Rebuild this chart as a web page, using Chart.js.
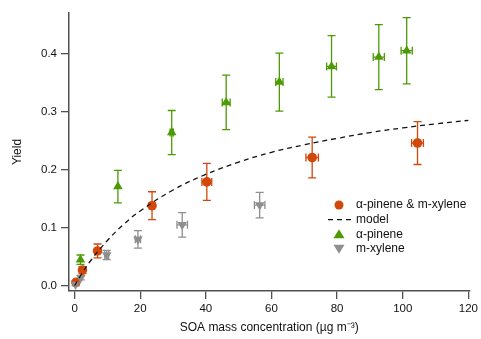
<!DOCTYPE html>
<html>
<head>
<meta charset="utf-8">
<script src="https://cdn.jsdelivr.net/npm/chart.js@4/dist/chart.umd.min.js"></script>
<style>
  html, body { margin: 0; padding: 0; background: #fff; }
  #wrap { width: 481px; height: 339px; }
</style>
</head>
<body>
<div id="wrap"><canvas id="yieldChart" width="481" height="339"></canvas></div>
<script>
// α-pinene & m-xylene mixture
const mixX    = [0.4, 2.4, 7.0, 23.6, 40.3, 72.4, 104.5];
const mixY    = [0.006, 0.027, 0.060, 0.138, 0.179, 0.221, 0.246];
const mixXErr = [0.3, 0.4, 0.6, 0.8, 1.5, 1.9, 1.8];
const mixYErr = [0.003, 0.006, 0.012, 0.024, 0.032, 0.035, 0.037];

// α-pinene only
const apX    = [1.8, 13.2, 29.6, 46.2, 62.4, 78.3, 92.7, 101.2];
const apY    = [0.045, 0.171, 0.264, 0.316, 0.351, 0.378, 0.394, 0.405];
const apXErr = [0.3, 0.4, 0.5, 1.2, 1.1, 1.5, 1.7, 1.7];
const apYErr = [0.008, 0.028, 0.038, 0.047, 0.050, 0.053, 0.056, 0.057];

// m-xylene only
const mxX    = [0.3, 1.9, 9.8, 19.3, 32.8, 56.4];
const mxY    = [0.002, 0.014, 0.053, 0.080, 0.105, 0.139];
const mxXErr = [0.2, 0.3, 0.6, 0.8, 1.6, 1.6];
const mxYErr = [0.002, 0.004, 0.008, 0.015, 0.021, 0.022];

// model curve
const modelX = [0, 2, 5, 10, 15, 20, 30, 40, 50, 60, 70, 80, 90, 100, 110, 120];
const modelY = [0, 0.019, 0.044, 0.078, 0.106, 0.129, 0.165, 0.192, 0.213, 0.230, 0.243, 0.254, 0.264, 0.272, 0.279, 0.285];

const xTicks = [0, 20, 40, 60, 80, 100, 120];
const yTicks = [0.0, 0.1, 0.2, 0.3, 0.4];

const ORANGE = '#d2480a';
const GREEN  = '#4d9a06';
const GRAY   = '#8e8e8e';
const AXIS   = '#505050';
const FONT   = 'Liberation Sans, Arial, sans-serif';

function pts(xs, ys) {
    return xs.map((x, i) => ({ x: x, y: ys[i] }));
}

// horizontal + vertical error bars with caps, drawn under the markers
const errorBars = {
    id: 'errorBars',
    beforeDatasetsDraw(chart) {
        const ctx = chart.ctx;
        const xs = chart.scales.x, ys = chart.scales.y;
        chart.data.datasets.forEach(ds => {
            if (!ds.yErr) return;
            ctx.save();
            ctx.strokeStyle = ds.borderColor;
            ctx.lineWidth = 1.3;
            ds.data.forEach((p, i) => {
                const px = xs.getPixelForValue(p.x);
                const py = ys.getPixelForValue(p.y);
                const top = ys.getPixelForValue(p.y + ds.yErr[i]);
                const bot = ys.getPixelForValue(p.y - ds.yErr[i]);
                const lft = xs.getPixelForValue(p.x - ds.xErr[i]);
                const rgt = xs.getPixelForValue(p.x + ds.xErr[i]);
                ctx.beginPath();
                ctx.moveTo(px, top); ctx.lineTo(px, bot);
                ctx.moveTo(px - 4, top); ctx.lineTo(px + 4, top);
                ctx.moveTo(px - 4, bot); ctx.lineTo(px + 4, bot);
                if (rgt - lft > 3) {
                    ctx.moveTo(lft, py); ctx.lineTo(rgt, py);
                    ctx.moveTo(lft, py - 4); ctx.lineTo(lft, py + 4);
                    ctx.moveTo(rgt, py - 4); ctx.lineTo(rgt, py + 4);
                }
                ctx.stroke();
            });
            ctx.restore();
        });
    }
};

// legend box inside the plot, lower right
const insetLegend = {
    id: 'insetLegend',
    afterDraw(chart) {
        const ctx = chart.ctx;
        const x0 = 339, tx = 356, y0 = 205, dy = 14.6;
        ctx.save();
        ctx.font = '12px ' + FONT;
        ctx.fillStyle = '#111';
        ctx.textBaseline = 'middle';
        const labels = ['\u03b1-pinene & m-xylene', 'model', '\u03b1-pinene', 'm-xylene'];
        labels.forEach((t, i) => ctx.fillText(t, tx, y0 + i * dy));

        ctx.fillStyle = ORANGE;
        ctx.beginPath(); ctx.arc(x0, y0, 4.5, 0, Math.PI * 2); ctx.fill();

        ctx.strokeStyle = '#111';
        ctx.lineWidth = 1.3;
        ctx.setLineDash([5, 4]);
        ctx.beginPath(); ctx.moveTo(328, y0 + dy); ctx.lineTo(352, y0 + dy); ctx.stroke();
        ctx.setLineDash([]);

        ctx.fillStyle = GREEN;
        let cy = y0 + 2 * dy;
        ctx.beginPath(); ctx.moveTo(x0, cy - 5); ctx.lineTo(x0 + 5.5, cy + 4); ctx.lineTo(x0 - 5.5, cy + 4); ctx.closePath(); ctx.fill();

        ctx.fillStyle = GRAY;
        cy = y0 + 3 * dy;
        ctx.beginPath(); ctx.moveTo(x0, cy + 5); ctx.lineTo(x0 + 5.5, cy - 4); ctx.lineTo(x0 - 5.5, cy - 4); ctx.closePath(); ctx.fill();
        ctx.restore();
    }
};

const ctx = document.getElementById('yieldChart').getContext('2d');
new Chart(ctx, {
    type: 'scatter',
    data: {
        datasets: [
            {
                label: 'model',
                data: pts(modelX, modelY),
                showLine: true,
                borderColor: '#111',
                borderWidth: 1.3,
                borderDash: [5, 4],
                pointRadius: 0,
                tension: 0.4,
                fill: false
            },
            {
                label: 'm-xylene',
                data: pts(mxX, mxY),
                xErr: mxXErr, yErr: mxYErr,
                borderColor: GRAY,
                backgroundColor: GRAY,
                pointStyle: 'triangle',
                rotation: 180,
                pointRadius: 5.5,
                borderWidth: 0
            },
            {
                label: '\u03b1-pinene',
                data: pts(apX, apY),
                xErr: apXErr, yErr: apYErr,
                borderColor: GREEN,
                backgroundColor: GREEN,
                pointStyle: 'triangle',
                pointRadius: 5.5,
                borderWidth: 0
            },
            {
                label: '\u03b1-pinene & m-xylene',
                data: pts(mixX, mixY),
                xErr: mixXErr, yErr: mixYErr,
                borderColor: ORANGE,
                backgroundColor: ORANGE,
                pointStyle: 'circle',
                pointRadius: 4.8,
                borderWidth: 0
            }
        ]
    },
    options: {
        responsive: false,
        animation: false,
        layout: { padding: { top: 13, right: 8, left: 0, bottom: 0 } },
        plugins: {
            legend: { display: false },
            tooltip: { enabled: false }
        },
        scales: {
            x: {
                type: 'linear',
                min: -1.7,
                max: 120.3,
                afterBuildTicks: s => { s.ticks = xTicks.map(v => ({ value: v })); },
                afterFit: s => { s.height = 48; },
                grid: { drawOnChartArea: false, color: AXIS, tickLength: 8, lineWidth: 1.3 },
                border: { color: AXIS, width: 1.5 },
                ticks: { color: '#111', font: { family: FONT, size: 11.5 }, padding: 3, maxRotation: 0 },
                title: {
                    display: true,
                    text: 'SOA mass concentration (\u00b5g m\u207b\u00b3)',
                    color: '#111',
                    font: { family: FONT, size: 12 },
                    padding: { top: 0 }
                }
            },
            y: {
                type: 'linear',
                min: -0.009,
                max: 0.47,
                afterBuildTicks: s => { s.ticks = yTicks.map(v => ({ value: v })); },
                afterFit: s => { s.width = 69; },
                grid: { drawOnChartArea: false, color: AXIS, tickLength: 8, lineWidth: 1.3 },
                border: { color: AXIS, width: 1.5 },
                ticks: {
                    color: '#111',
                    font: { family: FONT, size: 11.5 },
                    padding: 4,
                    callback: v => v.toFixed(1)
                },
                title: {
                    display: true,
                    text: 'Yield',
                    color: '#111',
                    font: { family: FONT, size: 12 },
                    padding: { top: 10, bottom: 0 }
                }
            }
        }
    },
    plugins: [errorBars, insetLegend]
});
</script>
</body>
</html>
